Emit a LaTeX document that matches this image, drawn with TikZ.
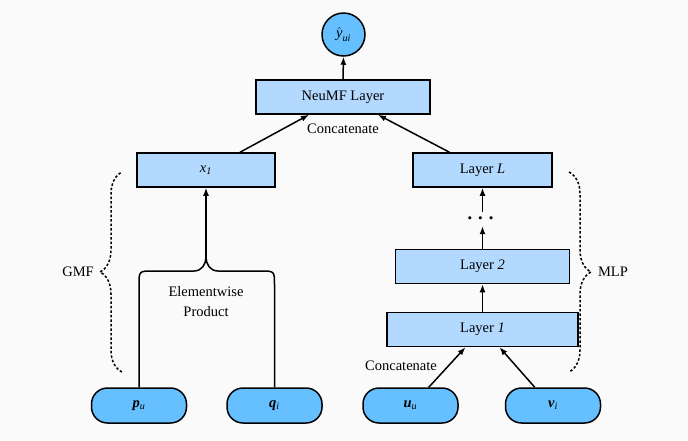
\documentclass[tikz,border=0pt]{standalone}
\usepackage{fontspec}
\setmainfont{Liberation Serif}
\usepackage{amsmath}
\usepackage{xcolor}
\usetikzlibrary{calc,arrows.meta,decorations.pathreplacing}

\definecolor{layerblue}{RGB}{179,217,255}
\definecolor{embedblue}{RGB}{102,191,255}
\definecolor{paper}{RGB}{250,250,250}

\tikzset{
  layer/.style={draw, line width=1.5pt, fill=layerblue, minimum height=34pt, inner sep=0pt},
  embed/.style={draw, line width=1.5pt, fill=embedblue, rounded corners=16pt,
                minimum width=95pt, minimum height=35pt, inner sep=0pt},
  flow/.style={->, line width=1.5pt},
  dotbrace/.style={decorate, decoration={brace, amplitude=22pt, aspect=0.5},
                   line width=1.5pt, dash pattern=on 2.5pt off 2pt}
}

\begin{document}
\begin{tikzpicture}[x=1pt,y=-1pt,>={Latex[length=8pt,width=6pt]},font=\fontsize{14.5}{17}\selectfont]
        % page and background
        \fill[paper] (0,0) rectangle (688,440);
        \useasboundingbox (0,0) rectangle (688,440);

        % output and fusion layer
        \node[circle, draw, line width=1.5pt, fill=embedblue, minimum size=43pt, inner sep=0pt]
              (yhat) at (343.5,34.5) {$\hat{\textit{y}}_{\textit{ui}}$};
        \node[layer, minimum width=174pt] (neumf) at (343,97) {NeuMF Layer};
        \node (concattop) at (343,129) {Concatenate};

        % GMF branch
        \node[layer, minimum width=138pt] (xone) at (206,170) {\textit{x}$_{\textit{1}}$};
        \node[embed] (pu) at (139,405.5) {\textbf{\textit{p}}$_{\textit{u}}$};
        \node[embed] (qi) at (274.5,405.5) {\textbf{\textit{q}}$_{\textit{i}}$};
        \node[align=center] (product) at (206,302) {Elementwise\\[3pt]Product};

        % MLP branch
        \node[layer, minimum width=139pt] (layerL) at (482.5,170) {Layer \textit{L}};
        \node[minimum height=14pt, inner sep=0pt, font=\fontsize{20}{20}\selectfont]
              (dots) at (482.5,219) {$\boldsymbol{\cdots}$};
        \node[layer, minimum width=174pt] (layertwo) at (482.5,266.5) {Layer \textit{2}};
        \node[layer, minimum width=191pt] (layerone) at (482.5,329.5) {Layer \textit{1}};
        \node[embed] (uu) at (410.5,405.5) {\textbf{\textit{u}}$_{\textit{u}}$};
        \node[embed] (vi) at (553,405.5) {\textbf{\textit{v}}$_{\textit{i}}$};
        \node (concatbot) at (401,366) {Concatenate};

        % connectors
        \draw[flow] (neumf.north) -- (yhat.south);
        \draw[flow] ($(xone.north)+(34,0)$) -- ($(neumf.south)+(-34,0)$);
        \draw[flow] ($(layerL.north)+(-33,0)$) -- ($(neumf.south)+(35,0)$);
        \draw[flow] (dots.north) -- (layerL.south);
        \draw[flow] (layertwo.north) -- (dots.south);
        \draw[flow] (layerone.north) -- (layertwo.south);
        \draw[flow] (uu.45) -- ($(layerone.south)+(-17,0)$);
        \draw[flow] (vi.135) -- ($(layerone.south)+(17,0)$);

        % elementwise product merge
        \coordinate (merge) at (206,257);
        \coordinate (pucorner) at (pu.north |- merge);
        \coordinate (qicorner) at (qi.north |- merge);
        \draw[line width=1.5pt] (pu.north) -- ($(pucorner)+(0,28)$)
              .. controls ($(pucorner)+(0,14)$) .. ($(pucorner)+(14,14)$)
              -- ($(merge)+(-12,14)$)
              .. controls ($(merge)+(-4,14)$) and ($(merge)+(0,7)$) .. (merge);
        \draw[line width=1.5pt] (qi.north) -- ($(qicorner)+(0,28)$)
              .. controls ($(qicorner)+(0,14)$) .. ($(qicorner)+(-14,14)$)
              -- ($(merge)+(12,14)$)
              .. controls ($(merge)+(4,14)$) and ($(merge)+(0,7)$) .. (merge);
        \draw[flow] (merge) -- (xone.south);

        % braces
        \coordinate (gmftop) at (122,172);
        \coordinate (gmfbot) at (122,372);
        \coordinate (mlptop) at (569,172);
        \coordinate (mlpbot) at (569,372);
        \draw[dotbrace] (gmfbot) -- (gmftop);
        \draw[dotbrace] (mlptop) -- (mlpbot);
        \node (gmf) at (78,272) {GMF};
        \node (mlp) at (613,272) {MLP};
\end{tikzpicture}
\end{document}
